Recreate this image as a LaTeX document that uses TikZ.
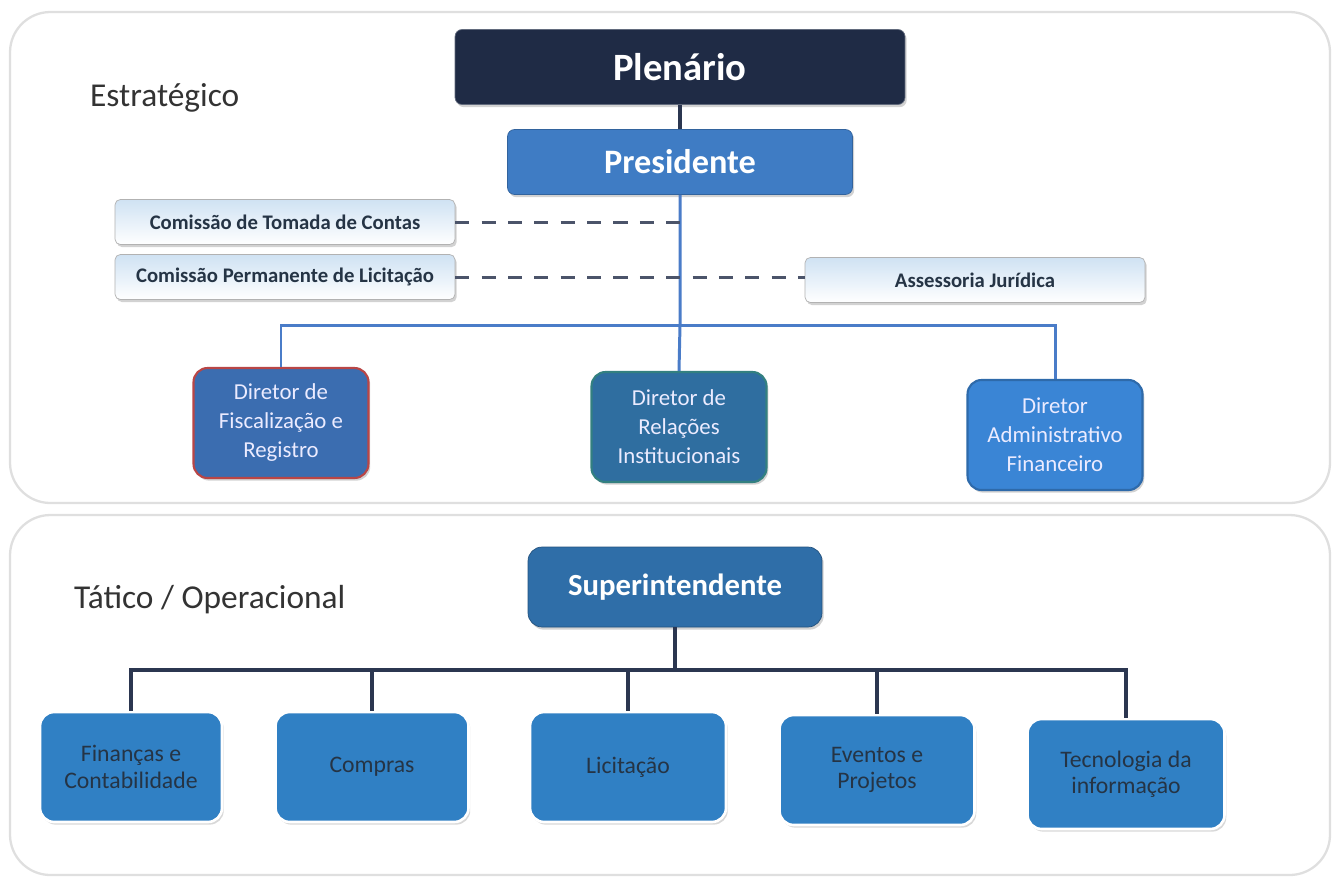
\documentclass[tikz,border=0pt]{standalone}
\usepackage{fontspec}
\setmainfont{Carlito}
\usetikzlibrary{shadows}

\definecolor{plenfill}{HTML}{1F2B45}
\definecolor{presfill}{HTML}{3F7CC4}
\definecolor{comfill}{HTML}{CFE2F3}
\definecolor{fisfill}{HTML}{3B6DB0}
\definecolor{relfill}{HTML}{2F6EA0}
\definecolor{admfill}{HTML}{3A85D5}
\definecolor{supfill}{HTML}{2F6EA8}
\definecolor{setfill}{HTML}{3080C4}
\definecolor{bluelink}{HTML}{4A7CC8}
\definecolor{darklink}{HTML}{2B3650}
\definecolor{darktext}{HTML}{253445}

\begin{document}
\begin{tikzpicture}[x=0.02cm,y=-0.02cm,
  panel/.style={draw=gray!25,line width=1.3pt,rounded corners=23pt,fill=white},
  level/.style={anchor=west,text=black!80,font=\fontsize{19}{22}\selectfont},
  softshadow/.style={drop shadow={shadow xshift=1pt,shadow yshift=-1.5pt,opacity=0.35}},
  topbox/.style={softshadow,rounded corners=4pt,text=white,font=\bfseries\fontsize{#1}{#1}\selectfont},
  combox/.style={softshadow,draw=gray!60,top color=comfill,bottom color=white,rounded corners=3pt,
    minimum width=6.8cm,minimum height=0.9cm,text=darktext,font=\bfseries\fontsize{11.8}{13}\selectfont},
  dirbox/.style={softshadow,line width=1.2pt,rounded corners=8pt,minimum width=3.5cm,minimum height=2.2cm,
    align=center,text=white!92!blue,font=\fontsize{13}{16.5}\selectfont},
  setor/.style={drop shadow={shadow xshift=1pt,shadow yshift=-1.5pt,opacity=0.3},draw=white,line width=1.5pt,
    fill=setfill,rounded corners=8pt,minimum height=2.2cm,align=center,
    text=darktext,font=\fontsize{13.5}{15}\selectfont},
  bluelinha/.style={bluelink,line width=1.7pt},
  darklinha/.style={darklink,line width=2.2pt},
  tracejado/.style={darklink!85,line width=1.7pt,dash pattern=on 8pt off 7pt}]

\useasboundingbox (0,0) rectangle (1335,880);

\draw[panel] (10,12) rectangle (1330,503);
\draw[panel] (10,515) rectangle (1330,875);

\node[level] (estrategico) at (84,98) {Estratégico};
\node[level] (tatico) at (68,600) {Tático / Operacional};

\node[topbox=22,fill=plenfill,draw=plenfill!70!white,minimum width=9cm,minimum height=1.5cm] (plenario) at (680,67) {Plenário};
\node[topbox=19.5,fill=presfill,draw=presfill!80!black,minimum width=6.9cm,minimum height=1.3cm] (presidente) at (680,162) {Presidente};

\node[combox] (ctc) at (285,222) {Comissão de Tomada de Contas};
\node[combox] (cpl) at (285,277) {Comissão Permanente de Licitação};
\node[combox] (assessoria) at (975,280) {Assessoria Jurídica};

\node[dirbox,fill=fisfill,draw=red!45!gray] (dfr) at (281,423) {Diretor de\\Fiscalização e\\Registro};
\node[dirbox,fill=relfill,draw=teal!60!gray] (dri) at (679,427) {Diretor de\\Relações\\Institucionais};
\node[dirbox,fill=admfill,draw=admfill!80!black] (daf) at (1055,435) {Diretor\\Administrativo\\Financeiro};

\coordinate (pbar) at (680,325);

\draw[darklinha] (plenario.south) -- (presidente.north);
\draw[bluelinha] (presidente.south) -- (pbar) -- (dri.north);
\draw[bluelinha] (dfr.north) |- (pbar) -| (daf.north);

\draw[tracejado] (ctc.east) -- (ctc.east -| pbar);
\draw[tracejado] (cpl.east) -- (cpl.east -| assessoria.west);

\node[topbox=17.5,fill=supfill,draw=supfill!75!black,rounded corners=8pt,minimum width=5.88cm,minimum height=1.6cm] (superint) at (675,587) {Superintendente};

\node[setor,minimum width=3.64cm] (financas) at (131,767) {Finanças e\\Contabilidade};
\node[setor,minimum width=3.86cm] (compras) at (372,767) {Compras};
\node[setor,minimum width=3.92cm] (licitacao) at (628,767) {Licitação};
\node[setor,minimum width=3.9cm] (eventos) at (877,770) {Eventos e\\Projetos};
\node[setor,minimum width=3.94cm] (tecnologia) at (1126,774) {Tecnologia da\\informação};

\coordinate (sbar) at (675,670);

\draw[darklinha] (superint.south) -- (sbar);
\draw[darklinha] (financas.north) |- (sbar) -| (tecnologia.north);
\foreach \s in {compras,licitacao,eventos}
  \draw[darklinha] (\s.north) -- (\s.north |- sbar);

\end{tikzpicture}
\end{document}
